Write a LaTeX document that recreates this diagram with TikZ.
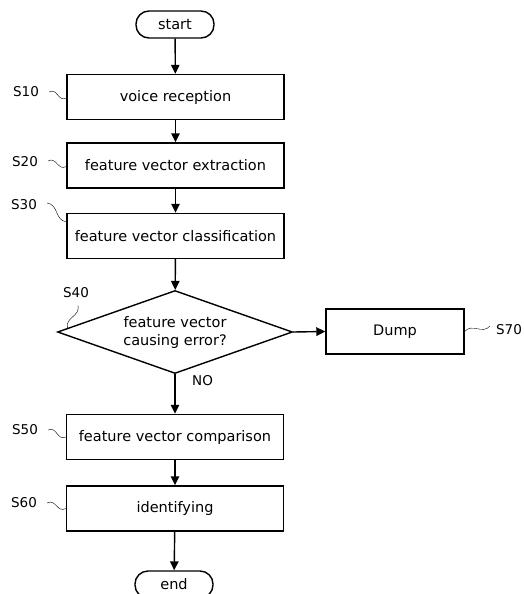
\documentclass[tikz,border=0pt]{standalone}
\usepackage{fontspec}
\setmainfont{DejaVu Sans}
\usetikzlibrary{arrows.meta,shapes.geometric,calc}
\begin{document}
\begin{tikzpicture}[x=1pt,y=-1pt,
  stepbox/.style={draw, line width=1.4pt, minimum width=217pt, minimum height=45pt,
    inner sep=0pt, font=\fontsize{14.5}{17}\selectfont},
  term/.style={draw, line width=1.4pt, rounded corners=13pt, minimum width=78pt,
    minimum height=27pt, inner sep=0pt, font=\fontsize{14.5}{17}\selectfont},
  decision/.style={draw, line width=1.4pt, diamond, aspect=2.83, minimum width=235pt,
    minimum height=83pt, inner sep=0pt, align=center,
    font=\fontsize{14.5}{18}\selectfont},
  tag/.style={inner sep=0pt, font=\fontsize{13.5}{16}\selectfont},
  flow/.style={draw, line width=1.4pt, -{Triangle[length=9pt,width=8.5pt]}},
  lead/.style={line width=1.1pt, line cap=round, to path={.. controls
    ($(\tikztostart)!0.35!(\tikztotarget)!7pt!90:(\tikztotarget)$) and
    ($(\tikztostart)!0.65!(\tikztotarget)!7pt!-90:(\tikztotarget)$) .. (\tikztotarget)}}]
\useasboundingbox (0,0) rectangle (523,594);

% flow steps
\node[term] (start) at (175,24.5) {start};
\node[stepbox] (s10) at (175.5,97) {voice reception};
\node[stepbox] (s20) at (175.5,165.5) {feature vector extraction};
\node[stepbox] (s30) at (175.5,236) {feature vector classification};
\node[decision] (s40) at (175,332) {feature vector\\causing error?};
\node[stepbox, minimum width=138pt] (s70) at (395,331.5) {Dump};
\node[stepbox] (s50) at (175,437) {feature vector comparison};
\node[stepbox] (s60) at (175,508.5) {identifying};
\node[term] (end) at (174,584.5) {end};
\node[tag, anchor=west] (no) at (192,381) {NO};

% step numbers
\node[tag] (t10) at (26,92) {S10};
\node[tag] (t20) at (25,162) {S20};
\node[tag] (t30) at (24,205) {S30};
\node[tag] (t40) at (76,293) {S40};
\node[tag] (t50) at (25,430) {S50};
\node[tag] (t60) at (24,503) {S60};
\node[tag] (t70) at (509,330) {S70};

% connectors
\draw[flow] (start) -- (s10);
\draw[flow] (s10) -- (s20);
\draw[flow] (s20) -- (s30);
\draw[flow] (s30) -- (s40);
\draw[flow] (s40.east) -- (s70.west);
\draw[flow] (s40.south) -- (s50);
\draw[flow] (s50) -- (s60);
\draw[flow] (s60) -- (end);

% leader lines from step numbers
\draw ($(t10.east)+(10,0)$) to[lead] ($(s10.west)+(0,1)$);
\draw ($(t20.east)+(10,-1)$) to[lead] ($(s20.west)+(0,1)$);
\draw ($(t30.east)+(10,-2)$) to[lead] ($(s30.north west)+(0,9)$);
\draw ($(t40.south)+(2,7)$) to[lead] ($(s40.west)!0.09!(s40.north)$);
\draw ($(t50.east)+(10,0)$) to[lead] ($(s50.west)+(0,0)$);
\draw ($(t60.east)+(10,0)$) to[lead] ($(s60.west)+(0,0)$);
\draw (s70.east) to[lead] ($(t70.west)+(-6,-4)$);
\end{tikzpicture}
\end{document}
